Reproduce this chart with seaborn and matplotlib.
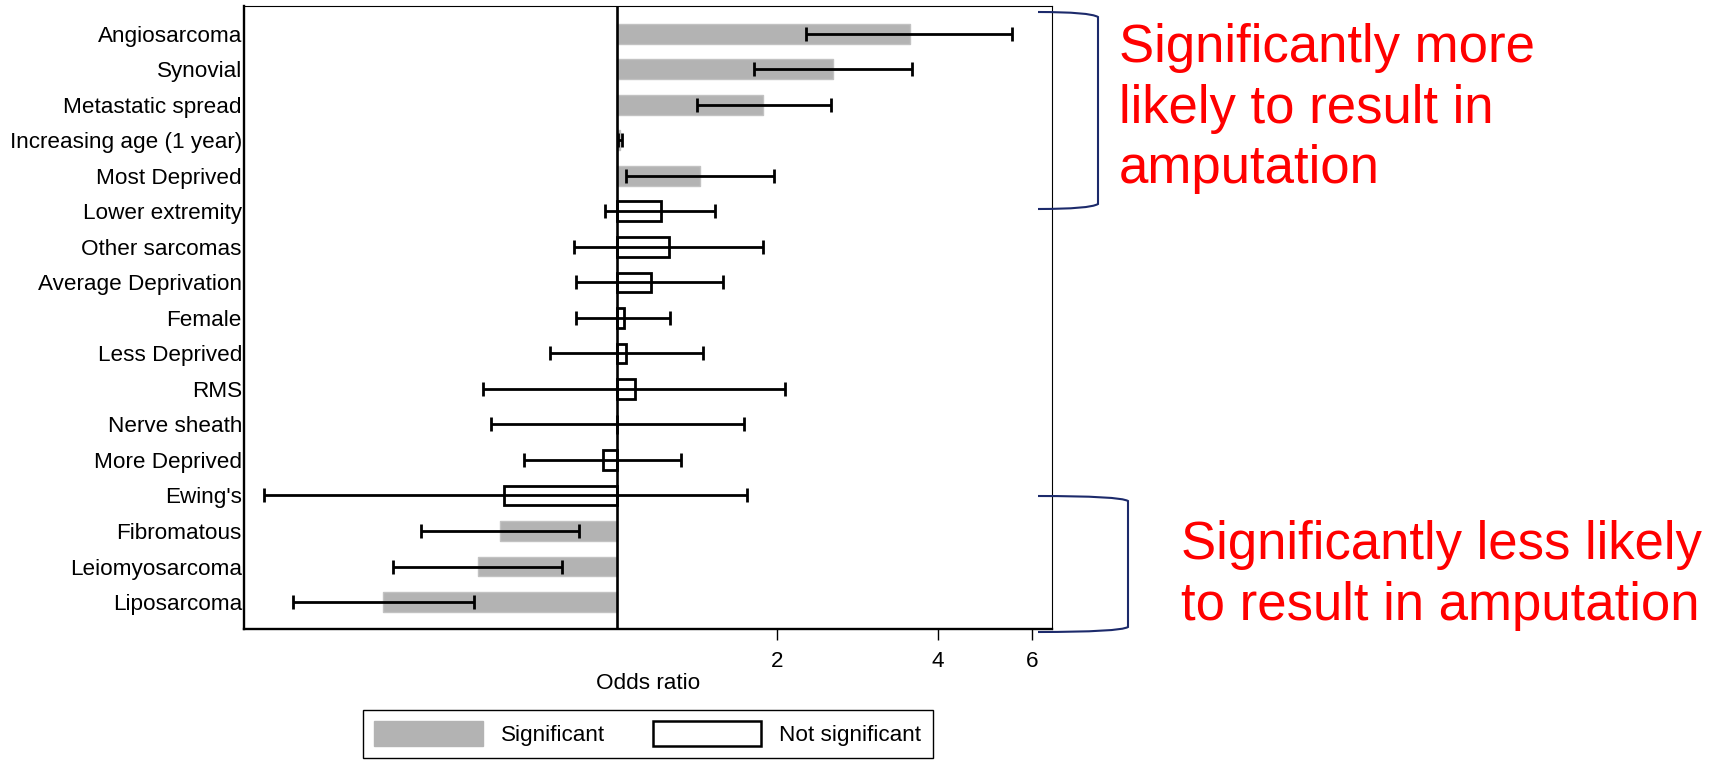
import numpy as np
import pandas as pd
import matplotlib.pyplot as plt
import seaborn as sns
from matplotlib.patches import Patch, PathPatch
from matplotlib.path import Path

sns.set_style("ticks")
plt.rcParams['font.family'] = ['Liberation Sans', 'DejaVu Sans']
plt.rcParams['text.color'] = 'black'
plt.rcParams['axes.labelcolor'] = 'black'
plt.rcParams['xtick.color'] = 'black'
plt.rcParams['ytick.color'] = 'black'

# data (odds ratio with 95% CI)
factors = ["Angiosarcoma", "Synovial", "Metastatic spread", "Increasing age (1 year)",
           "Most Deprived", "Lower extremity", "Other sarcomas", "Average Deprivation",
           "Female", "Less Deprived", "RMS", "Nerve sheath", "More Deprived", "Ewing's",
           "Fibromatous", "Leiomyosarcoma", "Liposarcoma"]
odds_ratio = [3.54, 2.54, 1.88, 1.012, 1.43, 1.21, 1.25, 1.16, 1.03, 1.04, 1.08, 1.0,
              0.94, 0.615, 0.605, 0.55, 0.365]
ci_low = [2.26, 1.81, 1.41, 1.004, 1.04, 0.95, 0.83, 0.84, 0.84, 0.75, 0.56, 0.58,
          0.67, 0.218, 0.43, 0.38, 0.247]
ci_high = [5.51, 3.57, 2.52, 1.022, 1.97, 1.53, 1.88, 1.58, 1.26, 1.45, 2.07, 1.73,
           1.32, 1.75, 0.85, 0.79, 0.54]
significant = [True, True, True, True, True, False, False, False, False, False, False,
               False, False, False, True, True, True]
x_ticks = [2, 4, 6]

df = pd.DataFrame({'factor': factors, 'odds_ratio': odds_ratio,
                   'ci_low': ci_low, 'ci_high': ci_high, 'significant': significant})
df['log_or'] = np.log(df['odds_ratio'])

W, H = 1723, 763
fig = plt.figure(figsize=(W / 100, H / 100), dpi=100)
ax = fig.add_axes([244 / W, 1 - 629 / H, (1052 - 244) / W, (629 - 5.5) / H])

gray = '#b3b3b3'
sns.barplot(data=df[df['significant']], x='log_or', y='factor', order=factors,
            color=gray, saturation=1, width=0.56, edgecolor='#c2c2c2', linewidth=1,
            errorbar=None, ax=ax)
sns.barplot(data=df[~df['significant']], x='log_or', y='factor', order=factors,
            color='white', saturation=1, width=0.56, edgecolor='black', linewidth=2.0,
            errorbar=None, ax=ax)

pos = np.arange(len(factors))
ax.errorbar(df['log_or'], pos,
            xerr=[df['log_or'] - np.log(df['ci_low']), np.log(df['ci_high']) - df['log_or']],
            fmt='none', ecolor='black', elinewidth=2.0, capsize=4.8, capthick=2.0, zorder=3)
ax.axvline(0, color='black', lw=1.9, zorder=4)

ax.set_xlim(np.log(0.2), np.log(6.54))
ax.set_ylim(16.76, -0.80)
ax.set_xticks(np.log(x_ticks))
ax.set_xticklabels([str(t) for t in x_ticks])
ax.set_xlabel("Odds ratio", fontsize=16.2, labelpad=0.5)
ax.set_ylabel("")
ax.tick_params(axis='x', length=8, width=1, pad=8, labelsize=16.2)
ax.tick_params(axis='y', length=0, pad=1.5, labelsize=16.2)
for side in ['left', 'bottom']:
    ax.spines[side].set_linewidth(1.7)
for side in ['top', 'right']:
    ax.spines[side].set_linewidth(0.8)
for s in ax.spines.values():
    s.set_color('black')


def bracket(x_end, x_corner, y_top, y_bot):
    p = lambda x, y: (x / W, 1 - y / H)
    verts = [p(x_end, y_top), p(x_corner - 8, y_top), p(x_corner, y_top + 5),
             p(x_corner, y_bot - 5), p(x_corner - 8, y_bot), p(x_end, y_bot)]
    codes = [Path.MOVETO, Path.CURVE3, Path.CURVE3, Path.LINETO, Path.CURVE3, Path.CURVE3]
    fig.add_artist(PathPatch(Path(verts, codes), fill=False, edgecolor='#1c2a6b',
                             lw=1.5, transform=fig.transFigure, zorder=10))


bracket(1038, 1098, 12, 209)
bracket(1038, 1128, 496, 632)

fig.text(1119 / W, 1 - 23 / H, "Significantly more\nlikely to result in\namputation",
         color='red', fontsize=38, va='top', ha='left', linespacing=1.27)
fig.text(1181 / W, 1 - 520 / H, "Significantly less likely\nto result in amputation",
         color='red', fontsize=38, va='top', ha='left', linespacing=1.27)

handles = [Patch(facecolor=gray, edgecolor=gray, label='Significant'),
           Patch(facecolor='white', edgecolor='black', linewidth=1.8, label='Not significant')]
leg = fig.legend(handles=handles, loc='upper left', bbox_to_anchor=(363 / W, 1 - 710 / H),
                 ncol=2, frameon=True, fancybox=False, edgecolor='black', framealpha=1,
                 fontsize=16.2, handlelength=4.84, handleheight=1.33, handletextpad=0.8,
                 columnspacing=2.1, borderpad=0.5, borderaxespad=0)
leg.get_frame().set_linewidth(1.0)

fig.savefig('out.png', dpi=100)
